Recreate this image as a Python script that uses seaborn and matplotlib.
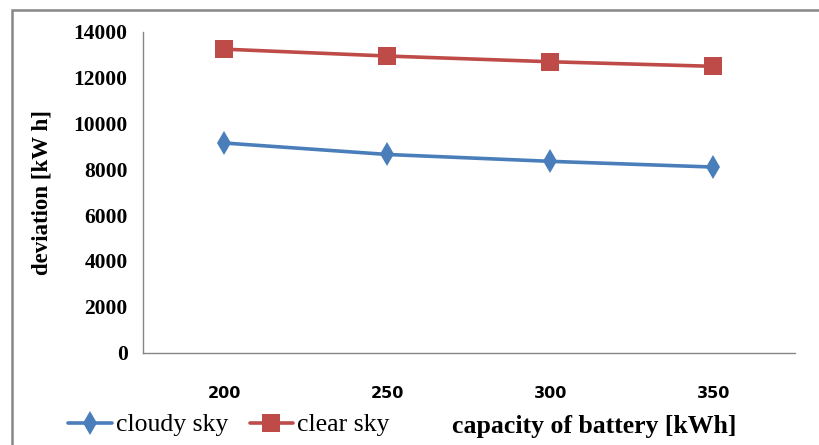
import numpy as np
import pandas as pd
import seaborn as sns
import matplotlib
matplotlib.use("Agg")
import matplotlib.pyplot as plt
from matplotlib.patches import Rectangle

# Battery capacity categories [kWh]
capacities = ["200", "250", "300", "350"]
# Deviation [kWh] for each sky condition
cloudy_sky = [9150, 8650, 8350, 8100]
clear_sky = [13250, 12950, 12700, 12500]
series_names = ["cloudy sky", "clear sky"]
y_ticks = [0, 2000, 4000, 6000, 8000, 10000, 12000, 14000]

df = pd.DataFrame({
    "capacity": capacities * 2,
    "deviation": cloudy_sky + clear_sky,
    "series": [series_names[0]] * len(capacities) + [series_names[1]] * len(capacities),
})

sns.set_style("white")
plt.rcParams["font.family"] = ["Liberation Serif", "DejaVu Serif"]
plt.rcParams["text.color"] = "black"
plt.rcParams["xtick.color"] = "black"
plt.rcParams["ytick.color"] = "black"
plt.rcParams["axes.labelcolor"] = "black"

W, H = 820, 445
fig = plt.figure(figsize=(W / 100, H / 100), dpi=100)
ax = fig.add_axes([143 / W, 1 - 352.5 / H, (795 - 143) / W, (352.5 - 32) / H])

blue = "#4A7EBB"
red = "#BE4B48"
marker_sizes = {series_names[0]: 12, series_names[1]: 13}
sns.lineplot(
    data=df, x="capacity", y="deviation", hue="series", style="series",
    palette={series_names[0]: blue, series_names[1]: red},
    markers={series_names[0]: "d", series_names[1]: "s"},
    dashes=False, linewidth=2.6, markersize=13, markeredgewidth=0,
    ax=ax, sort=False,
)
# diamonds are drawn a little smaller than the squares
for line in ax.lines:
    if line.get_marker() == "d":
        line.set_markersize(marker_sizes[series_names[0]])

axis_gray = "#868686"
ax.set_xlim(-0.5, len(capacities) - 0.5)
ax.set_ylim(0, 14000)
ax.set_yticks(y_ticks)
ax.set_yticklabels([str(v) for v in y_ticks], fontsize=15.5, fontweight="bold")
ax.tick_params(axis="y", direction="out", length=6, width=1, color=axis_gray, pad=5)

# category boundaries carry the tick marks, labels sit between them
ax.set_xticks(np.arange(len(capacities) + 1) - 0.5)
ax.set_xticklabels([])
ax.set_xticks(np.arange(len(capacities)), minor=True)
ax.set_xticklabels(capacities, minor=True, fontsize=11.5, fontweight="bold",
                   family="DejaVu Sans")
ax.tick_params(axis="x", which="major", direction="out", length=7, width=1, color=axis_gray)
ax.tick_params(axis="x", which="minor", length=0, pad=24)

for side in ["top", "right"]:
    ax.spines[side].set_visible(False)
for side in ["left", "bottom"]:
    ax.spines[side].set_color(axis_gray)
    ax.spines[side].set_linewidth(1)
ax.grid(False)

ax.set_ylabel("deviation [kW h]", fontsize=16.5, fontweight="bold")
ax.yaxis.set_label_coords((53 - 143) / (795 - 143), 0.5)
ax.set_xlabel("")
fig.text(594 / W, 1 - 426 / H, "capacity of battery [kWh]", fontsize=18.5,
         fontweight="bold", ha="center", va="center")

handles, labels = ax.get_legend_handles_labels()
for h in handles:
    if h.get_marker() == "d":
        h.set_markersize(marker_sizes[series_names[0]])
ax.legend(handles, labels, loc="center left", bbox_to_anchor=(68 / W, 1 - 425 / H),
          bbox_transform=fig.transFigure, ncol=2, frameon=False, fontsize=18.5,
          handlelength=1.7, handletextpad=0.15, columnspacing=0.85,
          borderpad=0, borderaxespad=0)

# outer chart frame
fig.patches.append(Rectangle((12 / W, -0.05), 1.1, 1 - 10 / H + 0.05,
                             transform=fig.transFigure, fill=False,
                             edgecolor="#878787", linewidth=1.8))

fig.savefig("out.png", dpi=100)
